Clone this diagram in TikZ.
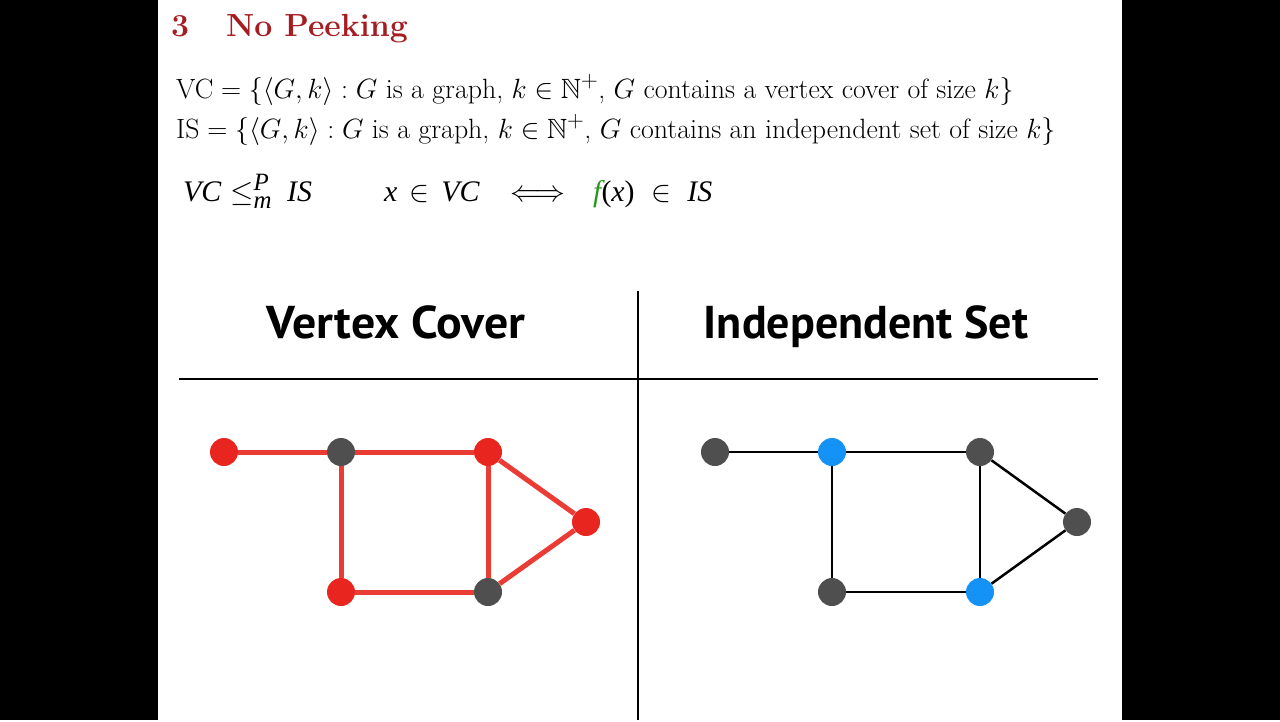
\documentclass[tikz,border=0pt]{standalone}
\usepackage{amsmath,amssymb}
\usepackage{fontspec}
\usepackage{tikz}
\usetikzlibrary{positioning}
\newfontfamily\headFont{PT Sans}
\newfontfamily\timesFont{Liberation Serif}
\definecolor{colorTitle}{RGB}{165, 28, 33}
\definecolor{colorCover}{RGB}{232, 38, 31}
\definecolor{colorVert}{RGB}{79, 79, 79}
\definecolor{colorInd}{RGB}{21, 146, 245}
\definecolor{colorMap}{RGB}{40, 150, 30}
\tikzstyle{vertex} = [circle, minimum size=28pt, inner sep=0pt, fill=colorVert]
\tikzstyle{coverVertex} = [vertex, fill=colorCover]
\tikzstyle{indVertex} = [vertex, fill=colorInd]
\tikzstyle{coverEdge} = [line width=5pt, draw=colorCover, opacity=0.9]
\tikzstyle{plainEdge} = [line width=2.5pt, draw=black]
\tikzstyle{title} = [anchor=base west, inner sep=0pt, text=colorTitle, font=\fontsize{32}{38}\selectfont\bfseries]
\tikzstyle{setDef} = [anchor=base west, inner sep=0pt, scale=1.12, font=\fontsize{24.88}{30}\selectfont]
\tikzstyle{mathText} = [anchor=base west, inner sep=0pt, scale=1.2, font=\fontsize{24.88}{30}\selectfont\timesFont\itshape]
\tikzstyle{header} = [anchor=base, inner sep=0pt, font=\fontsize{46}{54}\selectfont\headFont\bfseries]
\tikzstyle{rule} = [line width=2.5pt, draw=black]

\begin{document}
\begin{tikzpicture}[x=1pt, y=-1pt]

	% frame
	\fill[black] (0,0) rectangle (1280,720);
	\fill[white] (158,0) rectangle (1122,720);

	% heading and definitions
	\node (titleNum)[title] at (171,36) {3};
	\node (titleText)[title] at (226,36) {No Peeking};

	\node (defVC)[setDef] at (176,98) {VC${}=\{\langle G,k\rangle : G$ is a graph, $k\in\mathbb{N}^{+}$, $G$ contains a vertex cover of size $k\}$};
	\node (defIS)[setDef] at (176,138) {IS${}=\{\langle G,k\rangle : G$ is a graph, $k\in\mathbb{N}^{+}$, $G$ contains an independent set of size $k\}$};

	\node (reduce)[mathText] at (183,201) {VC\hspace{0.3em}$\leq^{\text{\itshape P}}_{\text{\itshape m}}$\hspace{0.5em}IS};
	\node (xInVC)[mathText] at (384,201) {x\hspace{0.4em}$\in$\hspace{0.4em}VC};
	\node (iff)[mathText] at (510,201) {$\Longleftrightarrow$};
	\node (fxInIS)[mathText] at (593,201) {\textcolor{colorMap}{f}{\upshape(}x{\upshape)}\hspace{0.55em}$\in$\hspace{0.55em}IS};

	% table
	\node (hCover)[header, xscale=1.04] at (396,338) {Vertex Cover};
	\node (hInd)[header] at (866,338) {Independent Set};

	\coordinate (ruleLeft) at (179,379);
	\coordinate (ruleRight) at (1098,379);
	\coordinate (ruleTop) at (638,291);
	\coordinate (ruleBottom) at (638,720);
	\draw[rule] (ruleLeft) -- (ruleRight);
	\draw[rule] (ruleTop) -- (ruleBottom);

	% vertex cover graph
	\node (c1)[coverVertex] at (224,452) {};
	\node (c2)[vertex] at (341,452) {};
	\node (c3)[coverVertex] at (488,452) {};
	\node (c4)[coverVertex] at (586,522) {};
	\node (c5)[coverVertex] at (341,592) {};
	\node (c6)[vertex] at (488,592) {};

	\draw[coverEdge] (c1) -- (c2);
	\draw[coverEdge] (c2) -- (c3);
	\draw[coverEdge] (c2) -- (c5);
	\draw[coverEdge] (c3) -- (c6);
	\draw[coverEdge] (c3) -- (c4);
	\draw[coverEdge] (c4) -- (c6);
	\draw[coverEdge] (c5) -- (c6);

	% independent set graph
	\node (i1)[vertex] at (715,452) {};
	\node (i2)[indVertex] at (832,452) {};
	\node (i3)[vertex] at (980,452) {};
	\node (i4)[vertex] at (1077,522) {};
	\node (i5)[vertex] at (832,592) {};
	\node (i6)[indVertex] at (980,592) {};

	\draw[plainEdge] (i1) -- (i2);
	\draw[plainEdge] (i2) -- (i3);
	\draw[plainEdge] (i2) -- (i5);
	\draw[plainEdge] (i3) -- (i6);
	\draw[plainEdge] (i3) -- (i4);
	\draw[plainEdge] (i4) -- (i6);
	\draw[plainEdge] (i5) -- (i6);

\end{tikzpicture}
\end{document}
